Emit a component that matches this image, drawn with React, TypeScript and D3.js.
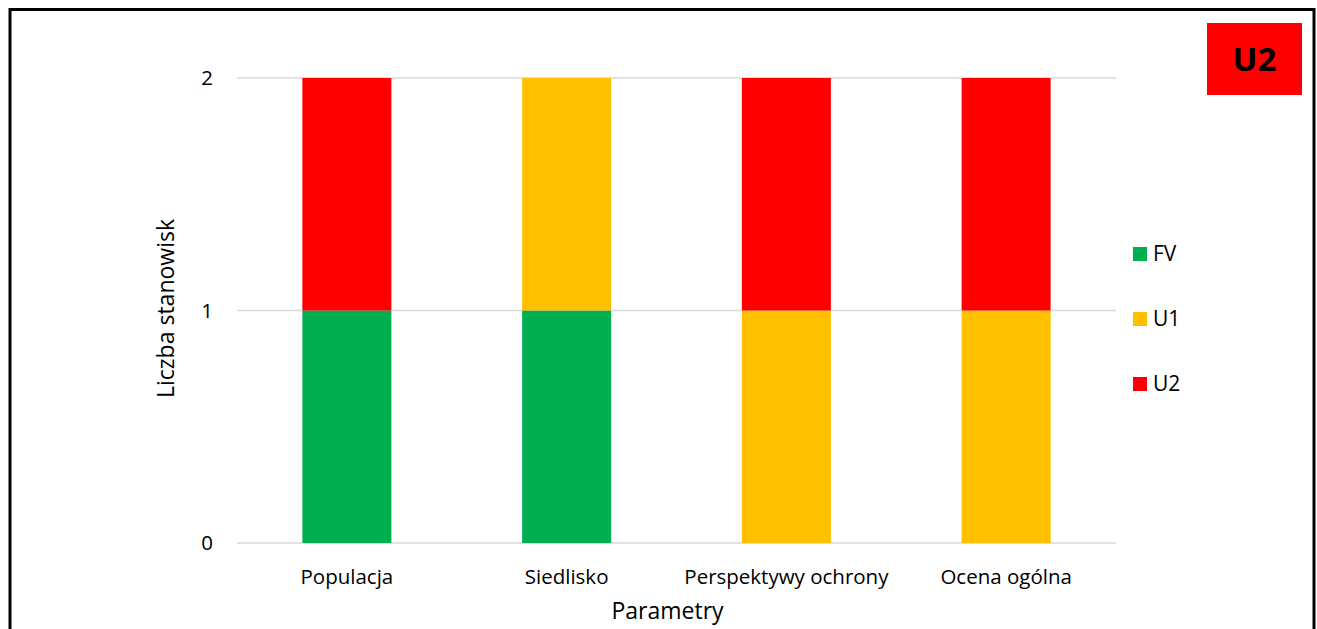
import React from 'react';
import * as d3 from 'd3';

const categories = ['Populacja', 'Siedlisko', 'Perspektywy ochrony', 'Ocena ogólna'];
const seriesNames = ['FV', 'U1', 'U2'];
const fvValues = [1, 1, 0, 0];
const u1Values = [0, 1, 1, 1];
const u2Values = [1, 0, 1, 1];
const yTicks = [0, 1, 2];
const colors = ['#00B050', '#FFC000', '#FF0000'];

const W = 1317;
const H = 629;
const margin = { left: 237, right: 201, top: 78, bottom: 86 };
const font = '"Open Sans", sans-serif';

export default function App() {
  const rows = categories.map((c, i) => ({
    cat: c,
    FV: fvValues[i],
    U1: u1Values[i],
    U2: u2Values[i],
  }));
  const stacked = d3.stack<any>().keys(seriesNames)(rows);

  const x = d3.scaleBand()
    .domain(categories)
    .range([margin.left, W - margin.right])
    .paddingInner(0.595)
    .paddingOuter(0.2975);
  const y = d3.scaleLinear()
    .domain([0, 2])
    .range([H - margin.bottom, margin.top]);

  return (
    <svg width={W} height={H} style={{ position: 'absolute', left: 0, top: 0 }}>
      <rect x={0} y={0} width={W} height={H} fill="#fff" />
      <rect x={10} y={9.5} width={1304} height={H + 10} fill="none" stroke="#000" strokeWidth={3} />
      {yTicks.map((t) => (
        <g key={t}>
          <line x1={margin.left} x2={W - margin.right} y1={y(t)} y2={y(t)} stroke="#d9d9d9" strokeWidth={1.5} />
          <text x={213} y={y(t)} dy="0.35em" textAnchor="end" fontFamily={font} fontSize={20.5} fill="#000">{t}</text>
        </g>
      ))}
      {stacked.map((s, si) => (
        <g key={s.key} fill={colors[si]}>
          {s.map((d, i) => (
            <rect key={i} x={x(categories[i])} width={x.bandwidth()}
              y={y(d[1])} height={y(d[0]) - y(d[1])} />
          ))}
        </g>
      ))}
      {categories.map((c) => (
        <text key={c} x={(x(c) as number) + x.bandwidth() / 2} y={584} textAnchor="middle"
          fontFamily={font} fontSize={20.5} fill="#000">{c}</text>
      ))}
      <text x={(margin.left + W - margin.right) / 2 - 9} y={619} textAnchor="middle"
        fontFamily={font} fontSize={23} fill="#000">Parametry</text>
      <text transform={`translate(174,${y(1) - 2}) rotate(-90)`} textAnchor="middle"
        fontFamily={font} fontSize={23} fill="#000">Liczba stanowisk</text>
      {seriesNames.map((n, i) => (
        <g key={n} transform={`translate(1133,${254 + i * 65})`}>
          <rect x={0} y={-7} width={14} height={14} fill={colors[i]} />
          <text x={20} y={0} dy="0.35em" fontFamily={font} fontSize={21} fill="#000">{n}</text>
        </g>
      ))}
      <rect x={1207} y={23} width={95} height={72} fill="#FF0000" />
      <text x={1254.5} y={59} dy="0.35em" textAnchor="middle" fontFamily={font}
        fontSize={33} fontWeight="bold" fill="#000">U2</text>
    </svg>
  );
}
